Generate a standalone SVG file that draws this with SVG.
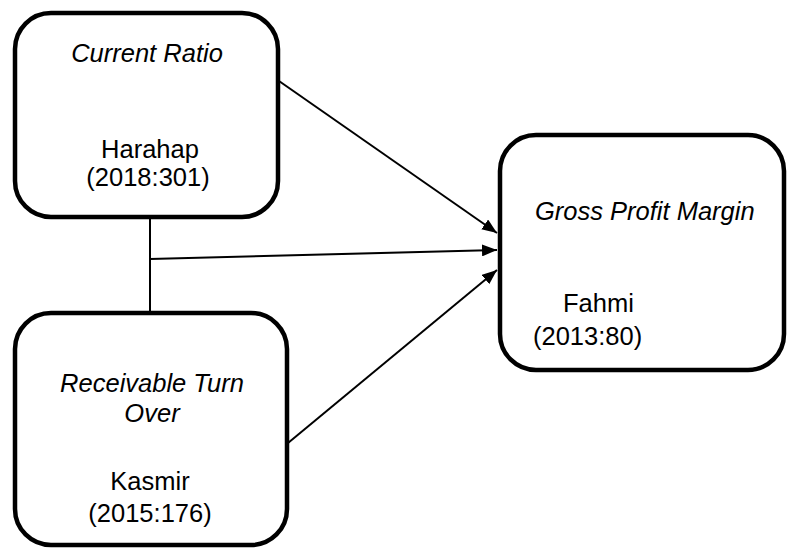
<svg xmlns="http://www.w3.org/2000/svg" width="787" height="549" viewBox="0 0 787 549">
<style>
.box{fill:#fff;stroke:#000;stroke-width:4.5}
.t{font-family:"Liberation Sans",Arial,sans-serif;font-size:25.5px;fill:#000}
.i{font-style:italic}
.c{fill:none;stroke:#000;stroke-width:2}
</style>
<defs>
<marker id="ah" viewBox="0 0 15 12" refX="15" refY="6" markerWidth="15" markerHeight="12" markerUnits="userSpaceOnUse" orient="auto">
<path d="M0,0 L15,6 L0,12 Z" fill="#000"/>
</marker>
</defs>
<g id="connectors">
<line class="c" x1="279" y1="81" x2="497" y2="233" marker-end="url(#ah)"/>
<line class="c" x1="150" y1="217" x2="150" y2="313"/>
<line class="c" x1="150" y1="259" x2="497" y2="250" marker-end="url(#ah)"/>
<line class="c" x1="288" y1="443" x2="497" y2="270" marker-end="url(#ah)"/>
</g>
<g id="current-ratio">
<rect class="box" x="15" y="13" width="263" height="204" rx="36"/>
<text class="t i" x="147" y="62" text-anchor="middle">Current Ratio</text>
<text class="t" x="150" y="158" text-anchor="middle">Harahap</text>
<text class="t" x="148" y="186" text-anchor="middle">(2018:301)</text>
</g>
<g id="receivable-turn-over">
<rect class="box" x="15" y="313" width="272" height="232" rx="36"/>
<text class="t i" x="152" y="392" text-anchor="middle">Receivable Turn</text>
<text class="t i" x="152" y="422" text-anchor="middle">Over</text>
<text class="t" x="150" y="490" text-anchor="middle">Kasmir</text>
<text class="t" x="150" y="522" text-anchor="middle">(2015:176)</text>
</g>
<g id="gross-profit-margin">
<rect class="box" x="500" y="135" width="284" height="235" rx="36"/>
<text class="t i" x="535" y="220">Gross Profit Margin</text>
<text class="t" x="563" y="312">Fahmi</text>
<text class="t" x="533" y="345">(2013:80)</text>
</g>
</svg>
